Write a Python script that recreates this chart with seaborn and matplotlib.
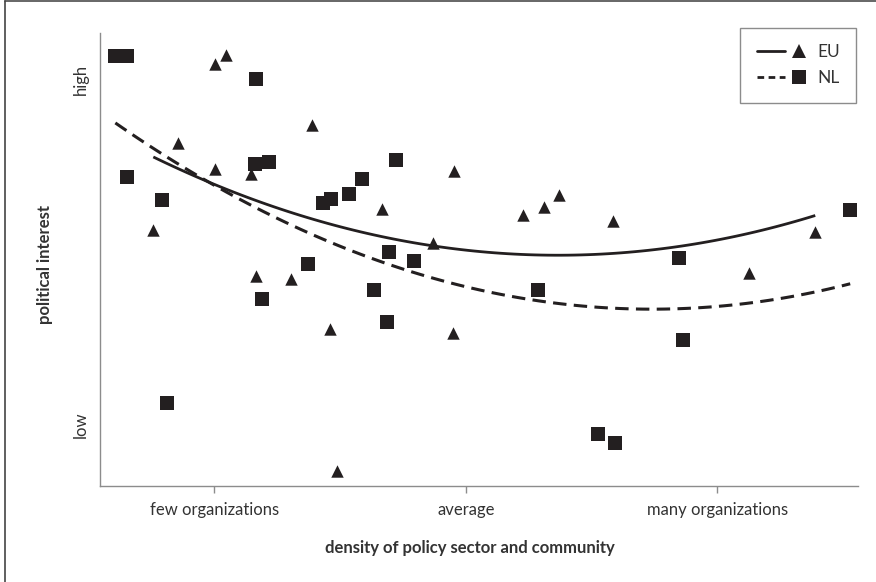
import matplotlib
matplotlib.use("Agg")
import matplotlib.pyplot as plt
import numpy as np
import pandas as pd
import seaborn as sns
from matplotlib.lines import Line2D
from matplotlib.legend_handler import HandlerTuple

# Density of the policy sector (standardised: -1 few, 0 average, +1 many)
# and political interest (-1 low, +1 high) per policy field.
eu_density = [-1.243, -1.145, -0.998, -0.953, -0.997, -0.856, -0.836, -0.697,
              -0.612, -0.541, -0.512, -0.333, -0.130, -0.053, -0.047, 0.225,
              0.309, 0.369, 0.583, 1.126, 1.389]
eu_interest = [0.132, 0.633, 1.091, 1.145, 0.486, 0.455, -0.135, -0.155,
               0.737, -0.441, -1.265, 0.250, 0.057, -0.465, 0.474, 0.217,
               0.264, 0.333, 0.184, -0.117, 0.121]

nl_density = [-1.394, -1.346, -1.347, -1.208, -1.188, -0.835, -0.838, -0.782,
              -0.810, -0.627, -0.567, -0.535, -0.464, -0.412, -0.280, -0.365,
              -0.305, -0.313, -0.206, 0.287, 0.526, 0.594, 0.848, 0.864, 1.528]
nl_interest = [1.136, 1.136, 0.436, 0.303, -0.874, 1.006, 0.513, 0.523,
               -0.267, -0.068, 0.287, 0.308, 0.338, 0.424, 0.534, -0.220,
               0.000, -0.404, -0.052, -0.220, -1.054, -1.106, -0.034, -0.508,
               0.245]

x_tick_pos = [-1, 0, 1]
x_tick_labels = ["few organizations", "average", "many organizations"]
y_tick_pos = [-1, 1]
y_tick_labels = ["low", "high"]

sns.set_theme(style="white")
plt.rcParams["font.family"] = ["Lato", "DejaVu Sans"]

INK = "#231f20"
GREY = "#8c8c8c"
TEXT = "#333333"
FS = 12

W, H = 876, 582
fig = plt.figure(figsize=(W / 100, H / 100), dpi=100)
ax = fig.add_axes([100 / W, (H - 485.7) / H, (858 - 100) / W, (485.7 - 33) / H])

eu = pd.DataFrame({"density": eu_density, "interest": eu_interest})
nl = pd.DataFrame({"density": nl_density, "interest": nl_interest})

# quadratic fits per group
sns.regplot(data=eu, x="density", y="interest", order=2, ci=None,
            scatter=False, ax=ax,
            line_kws=dict(color=INK, lw=2.0, solid_capstyle="butt", zorder=2))
sns.regplot(data=nl, x="density", y="interest", order=2, ci=None,
            scatter=False, ax=ax,
            line_kws=dict(color=INK, lw=2.2, dashes=(4.4, 2.4),
                          dash_capstyle="butt", zorder=2))

sns.scatterplot(data=eu, x="density", y="interest", marker="^", s=80,
                color=INK, linewidth=0, ax=ax, zorder=3)
sns.scatterplot(data=nl, x="density", y="interest", marker="s", s=88,
                color=INK, linewidth=0, ax=ax, zorder=3)

ax.set_xlim(-1.455, 1.559)
ax.set_ylim(-1.352, 1.272)

for side in ("top", "right"):
    ax.spines[side].set_visible(False)
for side in ("left", "bottom"):
    ax.spines[side].set_color(GREY)
    ax.spines[side].set_linewidth(1.0)

ax.set_xticks(x_tick_pos)
ax.set_xticklabels(x_tick_labels, fontsize=FS, color=TEXT)
ax.set_yticks(y_tick_pos)
ax.set_yticklabels(y_tick_labels, fontsize=FS, color=TEXT, rotation=90,
                   va="center")
ax.tick_params(axis="x", direction="out", length=5, width=1, color=GREY,
               pad=7, bottom=True)
ax.tick_params(axis="y", length=0, pad=8)

ax.set_xlabel("density of policy sector and community", fontsize=FS,
              fontweight="bold", color=TEXT)
ax.set_ylabel("political interest", fontsize=FS, fontweight="bold",
              color=TEXT)
ax.xaxis.label.set_va("center")
ax.yaxis.label.set_va("center")
ax.xaxis.set_label_coords((470 - 100) / 758, (485.7 - 548) / 452.7)
ax.yaxis.set_label_coords((45 - 100) / 758, (485.7 - 265) / 452.7)

# legend: line sample followed by the group's marker
eu_line = Line2D([], [], color=INK, lw=2.0)
nl_line = Line2D([], [], color=INK, lw=2.0, dashes=(2.4, 1.6))
eu_mark = Line2D([], [], ls="none", marker="^", ms=10, color=INK, mew=0)
nl_mark = Line2D([], [], ls="none", marker="s", ms=10, color=INK, mew=0)
leg = ax.legend([(eu_line, eu_mark), (nl_line, nl_mark)], ["EU", "NL"],
                handler_map={tuple: HandlerTuple(ndivide=None, pad=0.0)},
                loc="upper right", bbox_to_anchor=(856 / W, 1 - 28 / H),
                bbox_transform=fig.transFigure, borderaxespad=0,
                fontsize=12.5, handlelength=3.2, handletextpad=0.25,
                labelspacing=0.55, borderpad=0.95, fancybox=False,
                framealpha=1, edgecolor=GREY, labelcolor=TEXT)
leg.get_frame().set_linewidth(1.0)

# partial frame along the top and left edge of the figure
fig.add_artist(Line2D([5 / W, 1], [1 - 1 / H, 1 - 1 / H],
                      transform=fig.transFigure, color="#666666", lw=1.4))
fig.add_artist(Line2D([5 / W, 5 / W], [0, 1 - 1 / H],
                      transform=fig.transFigure, color="#444444", lw=1.2))

fig.savefig("out.png", dpi=100, facecolor="white")
